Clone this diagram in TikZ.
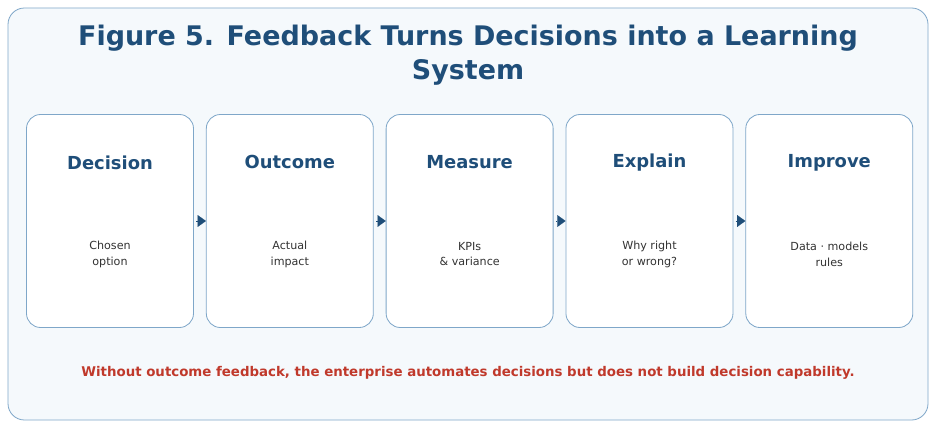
\documentclass[tikz,border=0pt]{standalone}
\usepackage{fontspec}
\setmainfont{DejaVu Sans}
\usetikzlibrary{positioning,arrows.meta}
\definecolor{navy}{HTML}{1F4E79}
\definecolor{frame}{HTML}{7FA7C9}
\definecolor{paleblue}{HTML}{F5F9FC}
\definecolor{warn}{HTML}{C0392B}
\begin{document}
\begin{tikzpicture}[x=0.03cm,y=-0.03cm]
  \tikzstyle{stage}=[draw=frame,fill=white,rounded corners=12pt,minimum width=167*0.03cm,minimum height=213*0.03cm,line width=0.7pt]
  \tikzstyle{head}=[font=\bfseries\fontsize{15.3}{18}\selectfont,text=navy]
  \tikzstyle{sub}=[font=\fontsize{9.5}{13.5}\selectfont,text=black!80,align=center]
  \tikzstyle{link}=[-{Triangle[length=7pt,width=10pt]},navy,line width=0.1pt,shorten <=2pt]
  \useasboundingbox (0,0) rectangle (936,428);
  \draw[draw=frame,fill=paleblue,rounded corners=14pt,line width=0.7pt] (8,8) rectangle (928,420);
  \node[font=\bfseries\fontsize{23}{29}\selectfont,text=navy,align=center] (title) at (468,55)
    {Figure 5. Feedback Turns Decisions into a Learning\\System};
  % the five stages
  \node[stage] (S_1) at (110,221) {};
  \node[stage,right=12*0.03cm of S_1] (S_2) {};
  \node[stage,right=12*0.03cm of S_2] (S_3) {};
  \node[stage,right=12*0.03cm of S_3] (S_4) {};
  \node[stage,right=12*0.03cm of S_4] (S_5) {};
  \foreach \i/\h/\t in {1/Decision/{Chosen\\option},2/Outcome/{Actual\\impact},3/Measure/{KPIs\\\& variance},4/Explain/{Why right\\or wrong?},5/Improve/{Data · models\\rules}} {
    \node[head] at ([yshift=-1.45cm]S_\i.north) {\h};
    \node[sub] at ([yshift=-4.2cm]S_\i.north) {\t};
  }
  \foreach \i/\j in {1/2,2/3,3/4,4/5}
    \draw[link] (S_\i.east) -- (S_\j.west);
  \node[font=\bfseries\fontsize{11.4}{13}\selectfont,text=warn] (note) at (468,373)
    {Without outcome feedback, the enterprise automates decisions but does not build decision capability.};
\end{tikzpicture}
\end{document}
